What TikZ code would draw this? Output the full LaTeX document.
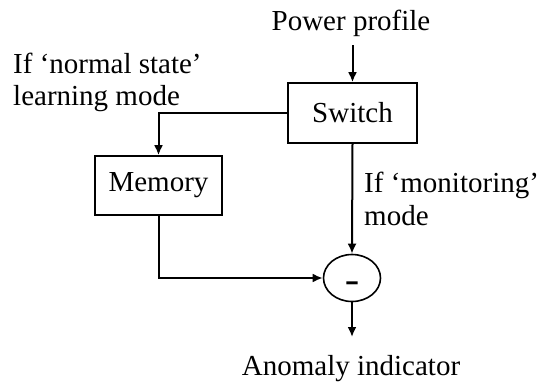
\documentclass[tikz,border=0pt]{standalone}
\usepackage{fontspec}
\setmainfont{Liberation Serif}
\usepackage{tikz}
\usetikzlibrary{arrows.meta,shapes.geometric}
\tikzset{
  lbl/.style={inner sep=0pt, font=\fontsize{29}{32}\selectfont},
  blk/.style={draw, line width=1.6pt, inner sep=0pt, font=\fontsize{29}{32}\selectfont},
  arr/.style={line width=2pt, -{Latex[length=10pt,width=9pt]}}
}
\begin{document}
\begin{tikzpicture}[x=1pt,y=-1pt]
\useasboundingbox (0,0) rectangle (538,381);

\node[lbl, anchor=base] (pp) at (351,30) {Power profile};
\node[blk, minimum width=129pt, minimum height=60pt] (sw) at (352.5,113) {Switch};
\node[blk, minimum width=127pt, minimum height=59pt] (mem) at (158.5,185.5) {Memory};
\node[blk, ellipse, minimum width=57pt, minimum height=47pt] (diff) at (352,278)
  {\raisebox{-13pt}[0pt][0pt]{\scalebox{1.5}[1.2]{\textbf{-}}}};

\node[lbl, anchor=base west] (nrm1) at (13,73) {If ‘normal state’};
\node[lbl, anchor=base west] (nrm2) at (13,105) {learning mode};
\node[lbl, anchor=base west] (mon1) at (364,192) {If ‘monitoring’};
\node[lbl, anchor=base west] (mon2) at (364,225) {mode};
\node[lbl, anchor=base] (anom) at (351,375) {Anomaly indicator};

\coordinate (top) at (352.5,45);
\coordinate (out) at (352,337);

\draw[arr] (top) -- (sw.north);
\draw[arr] (sw.west) -| (mem.north);
\draw[arr] (mem.south) |- (diff.west);
\draw[arr] (sw.south) -- (diff.north);
\draw[arr] (diff.south) -- (out);

\end{tikzpicture}
\end{document}
